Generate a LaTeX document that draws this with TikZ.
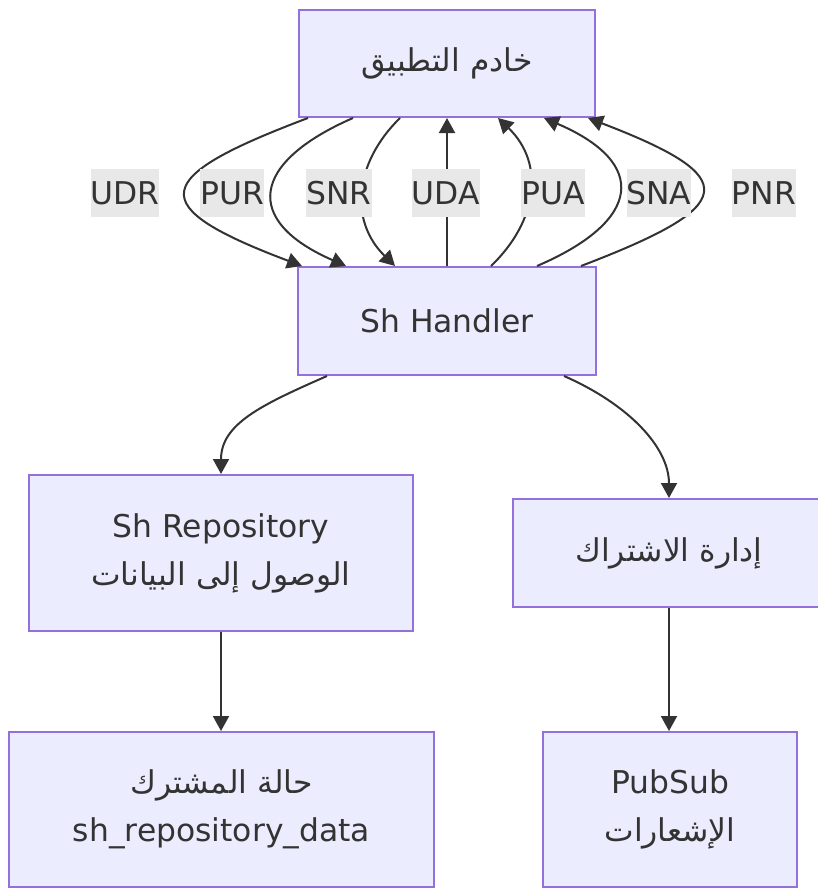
\documentclass[tikz,border=0pt]{standalone}
\usepackage{fontspec}
\setmainfont{DejaVu Sans}
\newfontfamily\arabicfont[Script=Arabic]{DejaVu Sans}
\TeXXeTstate=1
\usetikzlibrary{arrows.meta}
\definecolor{nodefill}{HTML}{ECECFF}
\definecolor{nodeline}{HTML}{9370DB}
\definecolor{edgecol}{HTML}{333333}
\definecolor{lblfill}{HTML}{E8E8E8}
\newcommand{\artxt}[1]{{\arabicfont\beginR #1\endR}}
\begin{document}
\begin{tikzpicture}[x=1bp,y=-1bp,
  box/.style={draw=nodeline, fill=nodefill, line width=2bp, inner sep=0pt, text=edgecol,
    font=\fontsize{31.5}{48}\selectfont, align=center},
  lbl/.style={fill=lblfill, inner sep=0pt, minimum height=48bp, text=edgecol,
    font=\fontsize{31.5}{48}\selectfont},
  conn/.style={draw=edgecol, line width=2bp, -{Triangle[length=15bp,width=16bp]}}]
\useasboundingbox (0,0) rectangle (818,889);
\clip (0,0) rectangle (818,889);

\node[box, minimum width=296bp, minimum height=107bp] (app) at (447,63.5) {\artxt{خادم التطبيق}};
\node[box, minimum width=298bp, minimum height=108bp] (handler) at (447,321) {Sh Handler};
\node[box, minimum width=384bp, minimum height=156bp] (repo) at (221,553) {Sh Repository\\\artxt{الوصول إلى البيانات}};
\node[box, minimum width=312bp, minimum height=108bp] (sub) at (669,553) {\artxt{إدارة الاشتراك}};
\node[box, minimum width=425bp, minimum height=155bp] (state) at (221.5,809.5) {\artxt{حالة المشترك}\\sh\_repository\_data};
\node[box, minimum width=254bp, minimum height=155bp] (pubsub) at (670,809.5) {PubSub\\\artxt{الإشعارات}};

% edges app <-> handler
\draw[conn] ([xshift=10bp]app.south west) .. controls +(-159,60) and +(-159,-60) .. ([xshift=5bp]handler.north west);
\draw[conn] ([xshift=55bp]app.south west) .. controls +(-103,45) and +(-103,-45) .. ([xshift=49bp]handler.north west);
\draw[conn] ([xshift=102bp]app.south west) .. controls +(-46,45) and +(-46,-45) .. ([xshift=98bp]handler.north west);
\draw[conn] (handler.north) -- (app.south);
\draw[conn] ([xshift=194bp]handler.north west) .. controls +(47,-45) and +(47,45) .. ([xshift=200bp]app.south west);
\draw[conn] ([xshift=240bp]handler.north west) .. controls +(105,-45) and +(105,45) .. ([xshift=246bp]app.south west);
\draw[conn] ([xshift=284bp]handler.north west) .. controls +(157,-60) and +(157,60) .. ([xshift=290bp]app.south west);

% labels
\node[lbl] (lUDR) at (125,193) {UDR};
\node[lbl] (lPUR) at (232,193) {PUR};
\node[lbl] (lSNR) at (339,193) {SNR};
\node[lbl] (lUDA) at (446,193) {UDA};
\node[lbl] (lPUA) at (553,193) {PUA};
\node[lbl] (lSNA) at (659,193) {SNA};
\node[lbl] (lPNR) at (764,193) {PNR};

% lower edges
\draw[conn] ([xshift=30bp]handler.south west) .. controls +(-66,29) and +(0,-50) .. (repo.north);
\draw[conn] ([xshift=-33bp]handler.south east) .. controls +(66,29) and +(0,-50) .. (sub.north);
\draw[conn] (repo.south) -- (repo.south |- state.north);
\draw[conn] (sub.south) -- (sub.south |- pubsub.north);
\end{tikzpicture}
\end{document}
